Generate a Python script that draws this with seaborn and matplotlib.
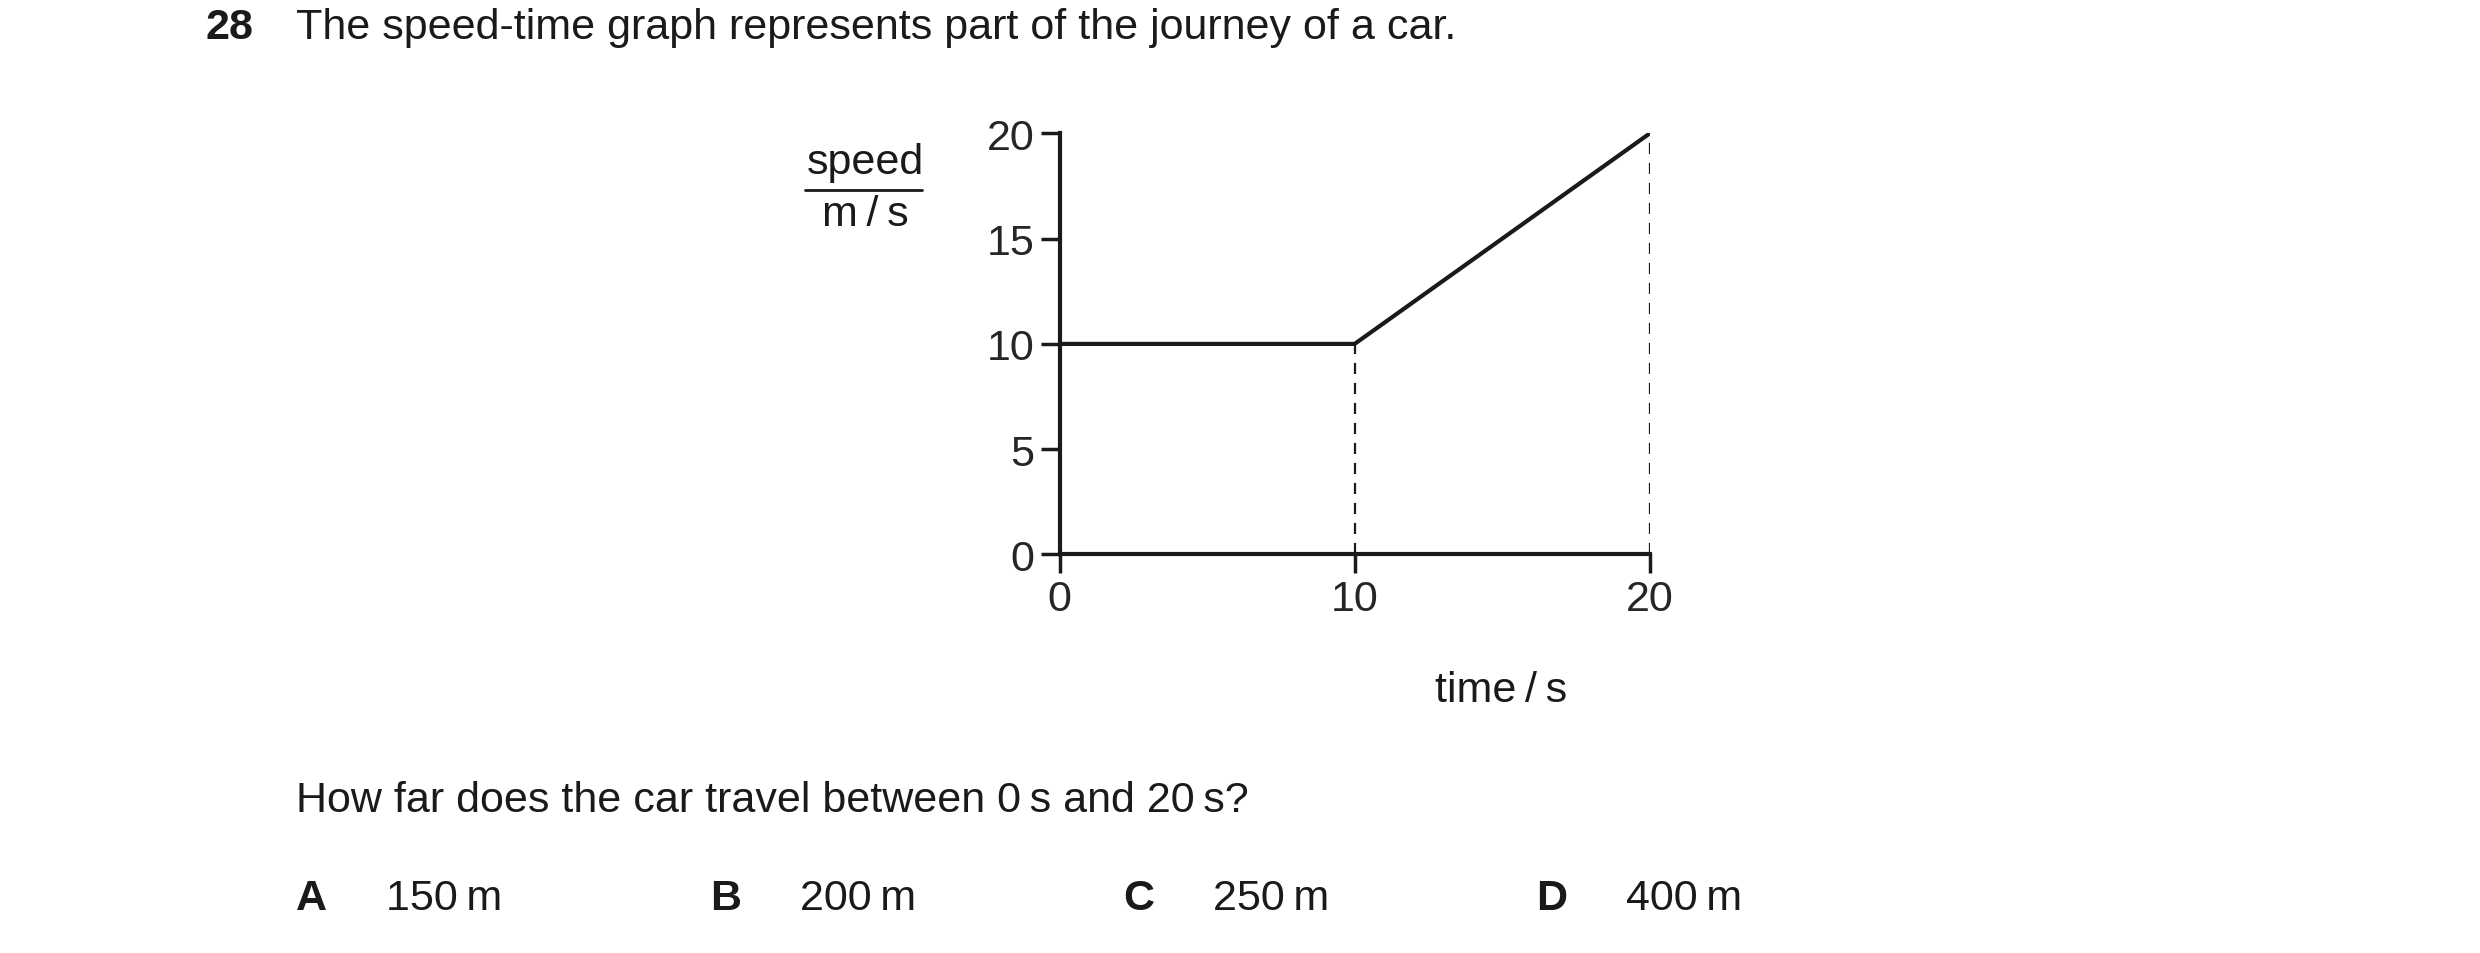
import matplotlib
matplotlib.use("Agg")
import matplotlib.pyplot as plt
import seaborn as sns
import pandas as pd

time_s = [0, 10, 20]
speed_ms = [10, 10, 20]
x_ticks = [0, 10, 20]
y_ticks = [0, 5, 10, 15, 20]
question = "The speed-time graph represents part of the journey of a car."
prompt = "How far does the car travel between 0\u2009s and 20\u2009s?"
options = [("A", "150\u2009m"), ("B", "200\u2009m"), ("C", "250\u2009m"), ("D", "400\u2009m")]

sns.set_style("ticks")
plt.rcParams['font.family'] = ['Liberation Sans', 'DejaVu Sans']

W, H = 1568, 603
fig = plt.figure(figsize=(24.8, 9.54), dpi=100)
ax = fig.add_axes([670/W, 1-351/H, (1043-670)/W, (351-85)/H])
df = pd.DataFrame({"time": time_s, "speed": speed_ms})
sns.lineplot(data=df, x="time", y="speed", ax=ax, color="#1a1a1a", linewidth=3)
for t, s in zip(time_s[1:], speed_ms[1:]):
    ax.plot([t, t], [0, s], color="#1a1a1a", linestyle=(0, (5, 4)), linewidth=1.6)
ax.set_xlim(0, 20)
ax.set_ylim(0, 20)
ax.set_xticks(x_ticks)
ax.set_yticks(y_ticks)
ax.set_xlabel("")
ax.set_ylabel("")
for sp in ["top", "right"]:
    ax.spines[sp].set_visible(False)
for sp in ["left", "bottom"]:
    ax.spines[sp].set_linewidth(3)
    ax.spines[sp].set_color("#1a1a1a")
ax.tick_params(axis="both", length=14, width=2.5, labelsize=31, color="#1a1a1a", pad=4)
ax.set_facecolor("white")

def T(x, y, s, **kw):
    fig.text(x/W, 1-y/H, s, va="center", fontsize=31, color="#1a1a1a", **kw)

T(130, 18, "28", weight="bold")
T(187, 18, question)
T(547, 103, "speed", ha="center")
T(547, 136, "m\u2009/\u2009s", ha="center")
fig.add_artist(plt.Line2D([509/W, 583/W], [1-121/H, 1-121/H], color="#1a1a1a", linewidth=2))
T(949, 437, "time\u2009/\u2009s", ha="center")
T(187, 506, prompt)
for (letter, val), xl in zip(options, [187, 449, 710, 971]):
    T(xl, 568, letter, weight="bold")
    T(xl + 57, 568, val)

fig.savefig("out.png", dpi=100, facecolor="white")
